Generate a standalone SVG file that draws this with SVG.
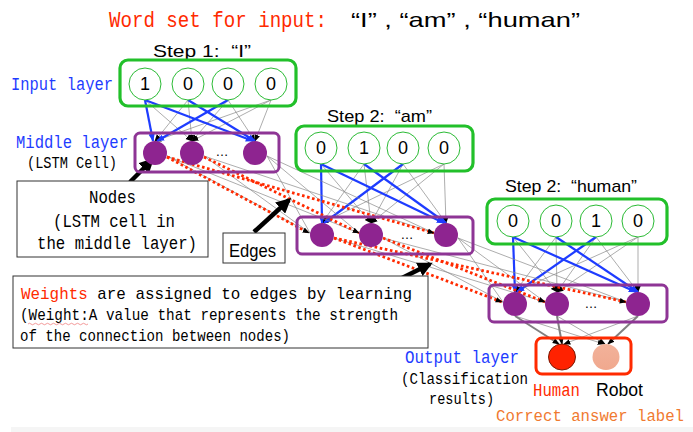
<svg xmlns="http://www.w3.org/2000/svg" width="693" height="432" viewBox="0 0 693 432">
<style>
.mono{font-family:"Liberation Mono","DejaVu Sans Mono",monospace}
.sans{font-family:"Liberation Sans","Noto Sans",sans-serif}
.gbox{fill:none;stroke:#22c02a;stroke-width:3.2}
.pbox{fill:none;stroke:#8e3595;stroke-width:3}
.inc{fill:#fff;stroke:#2bbb35;stroke-width:1}
.node{fill:#8e2490}
.grey{stroke:#8a8a8a;stroke-width:0.7;fill:none}
.blue{stroke:#1e3cff;stroke-width:2.2;fill:none}
.red{stroke:#ff2a00;stroke-width:2.8;stroke-dasharray:2.6 2.6;fill:none}
.call{stroke:#000;stroke-width:4.5;fill:none}
.box{fill:#fff;stroke:#333;stroke-width:1}
.dig{font-family:"Liberation Sans","Noto Sans",sans-serif;font-size:18px;text-anchor:middle}
.bluet{fill:#1e3cff}
</style>
<defs>
<marker id="ak" viewBox="0 0 10 10" refX="9" refY="5" markerWidth="7" markerHeight="7" markerUnits="userSpaceOnUse" orient="auto"><path d="M0,1 L10,5 L0,9z" fill="#000"/></marker>
<marker id="ab" viewBox="0 0 10 10" refX="9" refY="5" markerWidth="8" markerHeight="8" markerUnits="userSpaceOnUse" orient="auto"><path d="M0,1 L10,5 L0,9z" fill="#1e3cff"/></marker>
<marker id="ac" viewBox="0 0 10 10" refX="8" refY="5" markerWidth="15" markerHeight="15" markerUnits="userSpaceOnUse" orient="auto"><path d="M0,0 L10,5 L0,10z" fill="#000"/></marker>
<linearGradient id="rg" x1="0" y1="0" x2="0" y2="1"><stop offset="0" stop-color="#f2b29a"/><stop offset="1" stop-color="#f0a88e"/></linearGradient>
</defs>
<rect width="693" height="432" fill="#fff"/>
<rect x="11" y="427" width="682" height="5" fill="#f5f5f5"/>

<!-- title -->
<text class="mono" x="109" y="27" font-size="22" fill="#ff2a00" textLength="218" lengthAdjust="spacingAndGlyphs">Word set for input:</text>
<text class="sans" x="351" y="27" font-size="21" fill="#000" textLength="229" lengthAdjust="spacingAndGlyphs">“I” , “am” , “human”</text>

<!-- connectors -->
<g id="connectors">
 <g marker-end="url(#ak)">
  <line class="grey" x1="145" y1="100" x2="192" y2="141"/>
  <line class="grey" x1="188" y1="100" x2="155" y2="141"/>
  <line class="grey" x1="188" y1="100" x2="192" y2="141"/>
  <line class="grey" x1="228" y1="100" x2="192" y2="141"/>
  <line class="grey" x1="228" y1="100" x2="255" y2="141"/>
  <line class="grey" x1="271" y1="100" x2="155" y2="141"/>
  <line class="grey" x1="271" y1="100" x2="192" y2="141"/>
  <line class="grey" x1="271" y1="100" x2="255" y2="141"/>
 </g>
 <g marker-end="url(#ab)">
  <line class="blue" x1="145" y1="100" x2="153" y2="141"/>
  <line class="blue" x1="145" y1="100" x2="253" y2="141"/>
  <line class="blue" x1="188" y1="100" x2="255" y2="141"/>
  <line class="blue" x1="228" y1="100" x2="157" y2="141"/>
 </g>
 <g marker-end="url(#ak)">
  <line class="grey" x1="321" y1="164" x2="371" y2="223"/>
  <line class="grey" x1="364" y1="164" x2="322" y2="223"/>
  <line class="grey" x1="364" y1="164" x2="371" y2="223"/>
  <line class="grey" x1="403" y1="164" x2="371" y2="223"/>
  <line class="grey" x1="403" y1="164" x2="446" y2="223"/>
  <line class="grey" x1="444" y1="164" x2="322" y2="223"/>
  <line class="grey" x1="444" y1="164" x2="371" y2="223"/>
  <line class="grey" x1="444" y1="164" x2="446" y2="223"/>
 </g>
 <g marker-end="url(#ab)">
  <line class="blue" x1="321" y1="164" x2="322" y2="223"/>
  <line class="blue" x1="321" y1="164" x2="444" y2="223"/>
  <line class="blue" x1="364" y1="164" x2="446" y2="223"/>
  <line class="blue" x1="403" y1="164" x2="324" y2="223"/>
 </g>
 <g marker-end="url(#ak)">
  <line class="grey" x1="513" y1="237" x2="557" y2="292"/>
  <line class="grey" x1="556" y1="237" x2="515" y2="292"/>
  <line class="grey" x1="556" y1="237" x2="557" y2="292"/>
  <line class="grey" x1="596" y1="237" x2="557" y2="292"/>
  <line class="grey" x1="596" y1="237" x2="638" y2="292"/>
  <line class="grey" x1="638" y1="237" x2="515" y2="292"/>
  <line class="grey" x1="638" y1="237" x2="557" y2="292"/>
  <line class="grey" x1="638" y1="237" x2="638" y2="292"/>
 </g>
 <g marker-end="url(#ab)">
  <line class="blue" x1="513" y1="237" x2="515" y2="292"/>
  <line class="blue" x1="513" y1="237" x2="636" y2="292"/>
  <line class="blue" x1="556" y1="237" x2="638" y2="292"/>
  <line class="blue" x1="596" y1="237" x2="517" y2="292"/>
 </g>
 <g>
  <line class="grey" x1="167" y1="156" x2="310" y2="233"/>
  <line class="grey" x1="167" y1="156" x2="359" y2="233"/>
  <line class="grey" x1="204" y1="156" x2="310" y2="233"/>
  <line class="grey" x1="204" y1="156" x2="434" y2="233"/>
  <line class="grey" x1="267" y1="156" x2="310" y2="233"/>
  <line class="grey" x1="267" y1="156" x2="359" y2="233"/>
  <line class="grey" x1="267" y1="156" x2="434" y2="233"/>
  <line class="grey" x1="334" y1="238" x2="545" y2="302"/>
  <line class="grey" x1="383" y1="238" x2="503" y2="302"/>
  <line class="grey" x1="383" y1="238" x2="626" y2="302"/>
  <line class="grey" x1="458" y1="238" x2="503" y2="302"/>
  <line class="grey" x1="458" y1="238" x2="545" y2="302"/>
  <line class="grey" x1="458" y1="238" x2="626" y2="302"/>
 </g>
 <g marker-end="url(#ak)">
  <line class="red" x1="167" y1="157" x2="309" y2="233"/>
  <line class="red" x1="167" y1="157" x2="434" y2="233"/>
  <line class="red" x1="204" y1="157" x2="359" y2="233"/>
  <line class="red" x1="334" y1="238" x2="502" y2="302"/>
  <line class="red" x1="334" y1="238" x2="626" y2="302"/>
  <line class="red" x1="383" y1="238" x2="545" y2="302"/>
 </g>
 <g marker-end="url(#ak)">
  <line class="grey" x1="515" y1="316" x2="604" y2="344"/>
  <line class="grey" x1="557" y1="316" x2="605" y2="344"/>
  <line class="grey" x1="638" y1="316" x2="564" y2="344"/>
  <line stroke="#808080" stroke-width="2" x1="515" y1="316" x2="559" y2="344"/>
  <line stroke="#808080" stroke-width="2" x1="557" y1="316" x2="562" y2="344"/>
  <line stroke="#808080" stroke-width="2" x1="638" y1="316" x2="608" y2="344"/>
 </g>
 <g marker-end="url(#ac)">
  <line class="call" x1="130" y1="182" x2="152" y2="160"/>
  <line class="call" x1="254" y1="232" x2="289" y2="200"/>
  <line class="call" x1="396" y1="281" x2="430" y2="264"/>
 </g>
</g>

<g id="step1-input">
 <text class="sans" x="153" y="57" font-size="17" textLength="98" lengthAdjust="spacingAndGlyphs">Step 1:&#160;&#160;“I”</text>
 <rect class="gbox" x="120" y="60" width="176" height="46" rx="8"/>
 <circle class="inc" cx="145" cy="84" r="16"/><text class="dig" x="145" y="90">1</text>
 <circle class="inc" cx="188" cy="84" r="16"/><text class="dig" x="188" y="90">0</text>
 <circle class="inc" cx="228" cy="84" r="16"/><text class="dig" x="228" y="90">0</text>
 <circle class="inc" cx="271" cy="84" r="16"/><text class="dig" x="271" y="90">0</text>
</g>
<g id="step1-middle">
 <rect class="pbox" x="135" y="133" width="144" height="39" rx="5"/>
 <circle class="node" cx="155" cy="153" r="12"/>
 <circle class="node" cx="192" cy="153" r="12"/>
 <circle class="node" cx="255" cy="153" r="12"/>
 <text class="sans" x="222" y="156" font-size="13" text-anchor="middle">…</text>
</g>

<g id="step2-input">
 <text class="sans" x="327" y="122" font-size="17" textLength="105" lengthAdjust="spacingAndGlyphs">Step 2:&#160;&#160;“am”</text>
 <rect class="gbox" x="296" y="126" width="177" height="45" rx="8"/>
 <circle class="inc" cx="321" cy="148" r="16"/><text class="dig" x="321" y="154">0</text>
 <circle class="inc" cx="364" cy="148" r="16"/><text class="dig" x="364" y="154">1</text>
 <circle class="inc" cx="403" cy="148" r="16"/><text class="dig" x="403" y="154">0</text>
 <circle class="inc" cx="444" cy="148" r="16"/><text class="dig" x="444" y="154">0</text>
</g>
<g id="step2-middle">
 <rect class="pbox" x="297" y="217" width="176" height="37" rx="5"/>
 <circle class="node" cx="322" cy="235" r="12"/>
 <circle class="node" cx="371" cy="235" r="12"/>
 <circle class="node" cx="446" cy="235" r="12"/>
 <text class="sans" x="407" y="239" font-size="13" text-anchor="middle">…</text>
</g>

<g id="step3-input">
 <text class="sans" x="505" y="192" font-size="17" textLength="132" lengthAdjust="spacingAndGlyphs">Step 2:&#160;&#160;“human”</text>
 <rect class="gbox" x="487" y="199" width="180" height="45" rx="8"/>
 <circle class="inc" cx="513" cy="221" r="16"/><text class="dig" x="513" y="227">0</text>
 <circle class="inc" cx="556" cy="221" r="16"/><text class="dig" x="556" y="227">0</text>
 <circle class="inc" cx="596" cy="221" r="16"/><text class="dig" x="596" y="227">1</text>
 <circle class="inc" cx="638" cy="221" r="16"/><text class="dig" x="638" y="227">0</text>
</g>
<g id="step3-middle">
 <rect class="pbox" x="489" y="285" width="178" height="37" rx="5"/>
 <circle class="node" cx="515" cy="304" r="12"/>
 <circle class="node" cx="557" cy="304" r="12"/>
 <circle class="node" cx="638" cy="304" r="12"/>
 <text class="sans" x="591" y="308" font-size="13" text-anchor="middle">…</text>
</g>

<g id="output-layer">
 <rect x="536" y="338" width="95" height="36" rx="6" fill="none" stroke="#ff2a00" stroke-width="3"/>
 <ellipse cx="562" cy="357" rx="13.5" ry="13" fill="#ff2200" stroke="#7a1a05" stroke-width="1"/>
 <ellipse cx="606" cy="357" rx="13.5" ry="13" fill="url(#rg)"/>
 <text class="mono" x="533" y="396" font-size="18" fill="#ff2a00" textLength="47" lengthAdjust="spacingAndGlyphs">Human</text>
 <text class="sans" x="596" y="396" font-size="18" textLength="47" lengthAdjust="spacingAndGlyphs">Robot</text>
 <text class="mono" x="496" y="421" font-size="16" fill="#f07a30" textLength="188" lengthAdjust="spacingAndGlyphs">Correct answer label</text>
</g>

<g id="labels">
 <text class="mono bluet" x="11" y="90" font-size="18" textLength="102" lengthAdjust="spacingAndGlyphs">Input layer</text>
 <text class="mono bluet" x="16" y="148" font-size="18" textLength="112" lengthAdjust="spacingAndGlyphs">Middle layer</text>
 <text class="mono" x="27" y="168" font-size="16" textLength="90" lengthAdjust="spacingAndGlyphs">(LSTM Cell)</text>
 <text class="mono bluet" x="405" y="363" font-size="18" textLength="114" lengthAdjust="spacingAndGlyphs">Output layer</text>
 <text class="mono" x="401" y="384" font-size="16" textLength="127" lengthAdjust="spacingAndGlyphs">(Classification</text>
 <text class="mono" x="429" y="404" font-size="16" textLength="65" lengthAdjust="spacingAndGlyphs">results)</text>
</g>

<g id="nodes-note">
 <rect class="box" x="17" y="181" width="191" height="76"/>
 <text class="mono" x="89" y="203" font-size="18" textLength="47" lengthAdjust="spacingAndGlyphs">Nodes</text>
 <text class="mono" x="53" y="227" font-size="18" textLength="122" lengthAdjust="spacingAndGlyphs">(LSTM cell in</text>
 <text class="mono" x="37" y="249" font-size="18" textLength="160" lengthAdjust="spacingAndGlyphs">the middle layer)</text>
</g>
<g id="edges-note">
 <rect class="box" x="223" y="233" width="62" height="30"/>
 <text class="sans" x="229" y="257" font-size="18" textLength="47" lengthAdjust="spacingAndGlyphs">Edges</text>
</g>
<g id="weights-note">
 <rect class="box" x="13" y="276" width="415" height="72"/>
 <text class="mono" x="21" y="299" font-size="17" textLength="391" lengthAdjust="spacingAndGlyphs"><tspan fill="#ff2a00">Weights</tspan> are assigned to edges by learning</text>
 <text class="mono" x="20" y="320" font-size="17" textLength="378" lengthAdjust="spacingAndGlyphs">(Weight:A value that represents the strength</text>
 <path d="M28,324 q1.5,-1.5 3,0 t3,0 t3,0 t3,0 t3,0 t3,0 t3,0 t3,0 t3,0 t3,0 t3,0 t3,0 t3,0 t3,0 t3,0 t3,0 t3,0 t3,0 t3,0 t3,0" fill="none" stroke="#f08080" stroke-width="0.8"/>
 <text class="mono" x="20" y="341" font-size="17" textLength="270" lengthAdjust="spacingAndGlyphs">of the connection between nodes)</text>
</g>
</svg>
